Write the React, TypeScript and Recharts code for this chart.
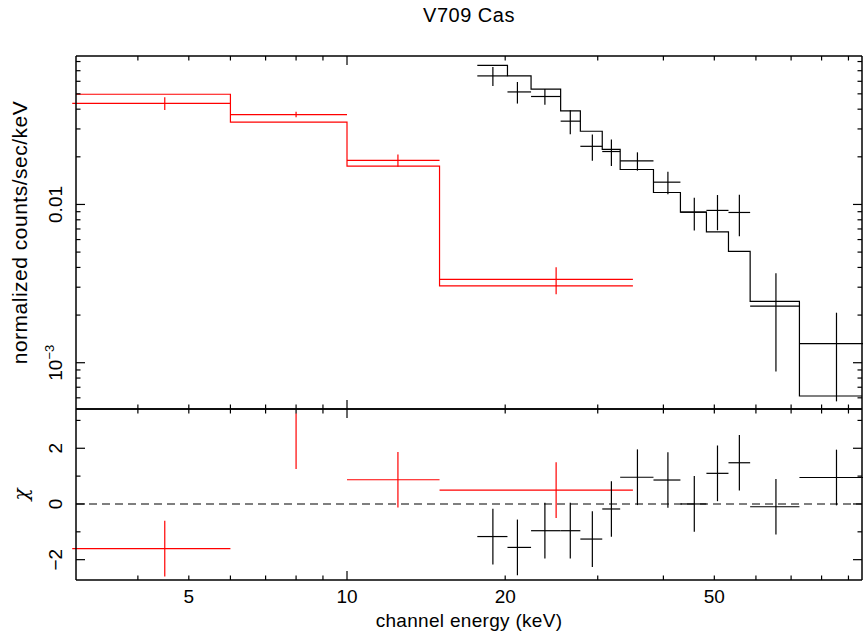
import React from 'react';
import { ComposedChart, Line, Scatter, ErrorBar, XAxis, YAxis, ReferenceLine, Label } from 'recharts';

// energy bins (keV) and fitted data
const redBinLo = [3, 6, 10, 15];
const redBinHi = [6, 10, 15, 35];
const redEnergy = [4.5, 8, 12.5, 25];
const redRate = [0.0435, 0.037, 0.019, 0.00336];
const redRateErr = [0.004, 0.0015, 0.0017, 0.00065];
const redModel = [0.0497, 0.0331, 0.01745, 0.00306];
const redChi = [-1.6, 2.26, 0.87, 0.5];
// the 6-10 keV residual is drawn without its bin bar in the original
const redChiHasBin = [true, false, true, true];

const blackBinLo = [17.7, 20.2, 22.4, 25.5, 27.8, 30.6, 33.1, 38.3, 43.1, 48.3, 53.2, 58.5, 72.6];
const blackBinHi = [20.2, 22.4, 25.5, 27.8, 30.6, 33.1, 38.3, 43.1, 48.3, 53.2, 58.5, 72.6, 98];
const blackEnergy = [18.95, 21.1, 23.8, 26.6, 29.3, 31.85, 35.7, 40.8, 45.8, 50.7, 55.8, 65.5, 85.4];
const blackRate = [0.0649, 0.0514, 0.0481, 0.0336, 0.0233, 0.0216, 0.01885, 0.01383, 0.00894, 0.00917, 0.0089, 0.00228, 0.00132];
const blackRateErr = [0.0089, 0.008, 0.0055, 0.0058, 0.0044, 0.0041, 0.0025, 0.00225, 0.0021, 0.0023, 0.0026, 0.0014, 0.00075];
const blackModel = [0.0757, 0.0649, 0.0535, 0.039, 0.029, 0.0223, 0.01663, 0.0119, 0.00894, 0.00671, 0.00505, 0.00244, 0.000616];
const blackChi = [-1.17, -1.56, -0.96, -0.96, -1.26, -0.18, 0.96, 0.86, 0.0, 1.1, 1.48, -0.1, 0.95];

const xTicks = [4, 5, 6, 7, 8, 9, 10, 20, 30, 40, 50, 60, 70, 80, 90];
const xTickLabels = [5, 10, 20, 50];
const xMajor = [10, 100];
const rateTicks = [
  6e-4, 7e-4, 8e-4, 9e-4, 1e-3, 2e-3, 3e-3, 4e-3, 5e-3, 6e-3, 7e-3, 8e-3, 9e-3,
  0.01, 0.02, 0.03, 0.04, 0.05, 0.06, 0.07, 0.08,
];
const rateMajor = [1e-3, 0.01];
const chiTicks = [-2, -1, 0, 1, 2, 3];
const chiLabels = [-2, 0, 2];

const X_DOMAIN = [3.05, 95.5];
const RATE_DOMAIN = [5.1e-4, 0.0867];
const CHI_DOMAIN = [-2.73, 3.41];

const RED = '#ff0000';
const BLACK = '#000000';
const FONT = '"Liberation Sans", Arial, Helvetica, sans-serif';
const FS = 19;

const steps = (lo: number[], hi: number[], v: number[]) =>
  v.flatMap((y, i) => [{ x: lo[i], y }, { x: hi[i], y }]);

const points = (e: number[], lo: number[], hi: number[], y: number[], err: number[] | number, hasBin?: boolean[]) =>
  e.map((x, i) => ({
    x,
    y: y[i],
    xErr: hasBin && !hasBin[i] ? [0, 0] : [x - lo[i], hi[i] - x],
    yErr: Array.isArray(err) ? err[i] : err,
  }));

const redModelSteps = steps(redBinLo, redBinHi, redModel);
const blackModelSteps = steps(blackBinLo, blackBinHi, blackModel);
const redPoints = points(redEnergy, redBinLo, redBinHi, redRate, redRateErr);
const blackPoints = points(blackEnergy, blackBinLo, blackBinHi, blackRate, blackRateErr);
const redResid = points(redEnergy, redBinLo, redBinHi, redChi, 1, redChiHasBin);
const blackResid = points(blackEnergy, blackBinLo, blackBinHi, blackChi, 1);

const superscript = (v: number) => {
  if (v === 0.01) return <>0.01</>;
  return (
    <>
      10<tspan dy={-8} fontSize={13}>−3</tspan>
    </>
  );
};

const XTick = ({ x, y, payload, side, labels }: any) => {
  const v = payload.value;
  const len = xMajor.includes(v) ? 9 : 4.5;
  const dir = side === 'top' ? 1 : -1;
  return (
    <g>
      <line x1={x} y1={y} x2={x} y2={y + dir * len} stroke={BLACK} strokeWidth={1.2} />
      {labels && xTickLabels.includes(v) && (
        <text x={x} y={y + 23} textAnchor="middle" fontSize={FS} fontFamily={FONT} fill={BLACK}>
          {v}
        </text>
      )}
    </g>
  );
};

const YTick = ({ x, y, payload, side, major, labels, log }: any) => {
  const v = payload.value;
  const len = major.includes(v) ? 9 : 4.5;
  const dir = side === 'left' ? 1 : -1;
  const showLabel = labels && labels.includes(v);
  return (
    <g>
      <line x1={x} y1={y} x2={x + dir * len} y2={y} stroke={BLACK} strokeWidth={1.2} />
      {showLabel && (
        <text
          x={62}
          y={y}
          transform={`rotate(-90 62 ${y})`}
          textAnchor="middle"
          fontSize={FS}
          fontFamily={FONT}
          fill={BLACK}
        >
          {log ? superscript(v) : v < 0 ? `−${-v}` : v}
        </text>
      )}
    </g>
  );
};

const axisCommon = { tickSize: 0, tickMargin: 0, tickLine: false, interval: 0 as const, stroke: BLACK, strokeWidth: 1.5 };

const ModelLine = ({ data, color }: any) => (
  <Line data={data} dataKey="y" type="linear" stroke={color} strokeWidth={1.2} dot={false} activeDot={false} isAnimationActive={false} />
);

const Crosses = ({ data, color }: any) => (
  <Scatter data={data} dataKey="y" shape={() => <g />} isAnimationActive={false}>
    <ErrorBar dataKey="xErr" direction="x" width={0} stroke={color} strokeWidth={1.2} />
    <ErrorBar dataKey="yErr" direction="y" width={0} stroke={color} strokeWidth={1.2} />
  </Scatter>
);

export default function App() {
  return (
    <div style={{ position: 'absolute', left: 0, top: 0, width: 863, height: 639, background: '#fff', fontFamily: FONT }}>
      <div
        style={{ position: 'absolute', left: 0, top: 4, width: 938, textAlign: 'center', fontSize: 20, letterSpacing: 0.5, color: BLACK }}
      >
        V709 Cas
      </div>

      <div style={{ position: 'absolute', left: 0, top: 0 }}>
        <ComposedChart width={863} height={410} margin={{ top: 55, right: 0, bottom: 0, left: 0 }}>
          <XAxis
            dataKey="x"
            type="number"
            scale="log"
            domain={X_DOMAIN}
            allowDataOverflow
            ticks={xTicks}
            height={1}
            tick={(p: any) => <XTick {...p} side="bottom" />}
            {...axisCommon}
          />
          <XAxis
            xAxisId="top"
            orientation="top"
            dataKey="x"
            type="number"
            scale="log"
            domain={X_DOMAIN}
            allowDataOverflow
            ticks={xTicks}
            height={1}
            tick={(p: any) => <XTick {...p} side="top" />}
            {...axisCommon}
          />
          <YAxis
            dataKey="y"
            type="number"
            scale="log"
            domain={RATE_DOMAIN}
            allowDataOverflow
            ticks={rateTicks}
            width={76}
            tick={(p: any) => <YTick {...p} side="left" major={rateMajor} labels={rateMajor} log />}
            {...axisCommon}
          >
            <Label
              value="normalized counts/sec/keV"
              position="insideLeft"
              angle={-90}
              offset={20}
              style={{ textAnchor: 'middle', fontSize: 21, letterSpacing: 0.5, fontFamily: FONT, fill: BLACK }}
            />
          </YAxis>
          <YAxis
            yAxisId="right"
            orientation="right"
            dataKey="y"
            type="number"
            scale="log"
            domain={RATE_DOMAIN}
            allowDataOverflow
            ticks={rateTicks}
            width={1}
            tick={(p: any) => <YTick {...p} side="right" major={rateMajor} />}
            {...axisCommon}
          />
          <Line
            xAxisId="top"
            yAxisId="right"
            data={blackModelSteps}
            dataKey="y"
            stroke="none"
            dot={false}
            activeDot={false}
            isAnimationActive={false}
          />
          {ModelLine({ data: redModelSteps, color: RED })}
          {ModelLine({ data: blackModelSteps, color: BLACK })}
          {Crosses({ data: redPoints, color: RED })}
          {Crosses({ data: blackPoints, color: BLACK })}
        </ComposedChart>
      </div>

      <div style={{ position: 'absolute', left: 0, top: 408 }}>
        <ComposedChart width={863} height={231} margin={{ top: 0, right: 0, bottom: 0, left: 0 }}>
          <XAxis
            dataKey="x"
            type="number"
            scale="log"
            domain={X_DOMAIN}
            allowDataOverflow
            ticks={xTicks}
            height={59}
            tick={(p: any) => <XTick {...p} side="bottom" labels />}
            {...axisCommon}
          >
            <Label
              value="channel energy (keV)"
              position="insideBottom"
              offset={12}
              style={{ fontSize: FS, letterSpacing: 0.3, fontFamily: FONT, fill: BLACK }}
            />
          </XAxis>
          <XAxis
            xAxisId="top"
            orientation="top"
            dataKey="x"
            type="number"
            scale="log"
            domain={X_DOMAIN}
            allowDataOverflow
            ticks={xTicks}
            height={1}
            tick={(p: any) => <XTick {...p} side="top" />}
            {...axisCommon}
          />
          <YAxis
            dataKey="y"
            type="number"
            domain={CHI_DOMAIN}
            allowDataOverflow
            ticks={chiTicks}
            width={76}
            tick={(p: any) => <YTick {...p} side="left" major={chiLabels} labels={chiLabels} />}
            {...axisCommon}
          >
            <Label
              value="χ"
              position="insideLeft"
              angle={-90}
              offset={21}
              style={{ textAnchor: 'middle', fontSize: 20, fontFamily: '"DejaVu Serif", serif', fontStyle: 'italic', fill: BLACK }}
            />
          </YAxis>
          <YAxis
            yAxisId="right"
            orientation="right"
            dataKey="y"
            type="number"
            domain={CHI_DOMAIN}
            allowDataOverflow
            ticks={chiTicks}
            width={1}
            tick={(p: any) => <YTick {...p} side="right" major={chiLabels} />}
            {...axisCommon}
          />
          <Line
            xAxisId="top"
            yAxisId="right"
            data={blackResid}
            dataKey="y"
            stroke="none"
            dot={false}
            activeDot={false}
            isAnimationActive={false}
          />
          <ReferenceLine y={0} stroke="#555" strokeWidth={1.5} strokeDasharray="8 5" />
          {Crosses({ data: redResid, color: RED })}
          {Crosses({ data: blackResid, color: BLACK })}
        </ComposedChart>
      </div>
    </div>
  );
}
